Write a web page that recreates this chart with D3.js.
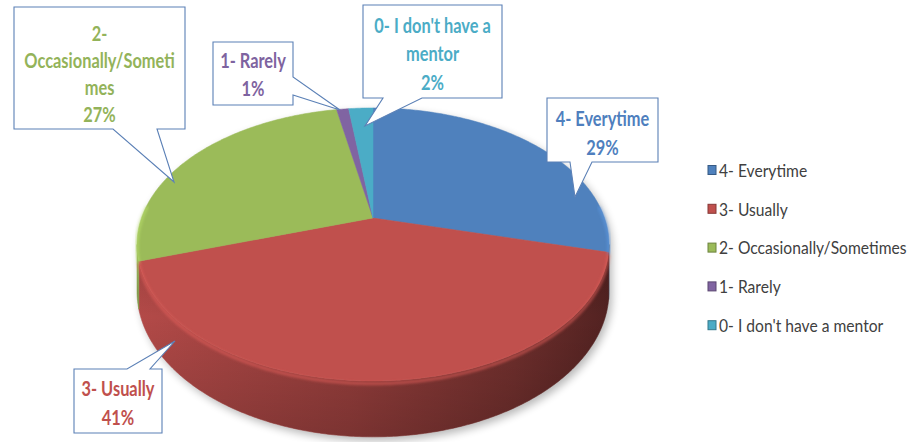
<!DOCTYPE html>
<html><head><meta charset="utf-8">
<script src="https://cdn.jsdelivr.net/npm/d3@7"></script>
<style>html,body{margin:0;padding:0;background:#fff;}svg{display:block;}</style>
</head><body>
<svg id="chart" width="918" height="442"></svg>
<script>
// ---- data ----
const categories = ["4- Everytime", "3- Usually", "2- Occasionally/Sometimes", "1- Rarely", "0- I don't have a mentor"];
const values = [29, 41, 27, 1, 2];
const percentLabels = ["29%", "41%", "27%", "1%", "2%"];
const calloutText = [["4- Everytime"], ["3- Usually"], ["2-", "Occasionally/Someti", "mes"], ["1- Rarely"], ["0- I don't have a", "mentor"]];
const sliceColors = ["#4f81bd", "#c0504d", "#9bbb59", "#8064a2", "#4bacc6"];
const textColors = ["#4f7fbe", "#c0504d", "#93b35a", "#7e63a0", "#4bacc6"];

// ---- layout (annotation positions) ----
const callouts = [
  {box:[547,98,658,162], edge:"bottom", base:[570,592], tip:[575,197], lines:[118,147]},
  {box:[74,369,162,433], edge:"top", base:[127,150], tip:[175,341], lines:[388,417]},
  {box:[14,7,185,129], edge:"bottom", base:[113,157], tip:[174,182], lines:[33,60,87,114]},
  {box:[213,42,293,105], edge:"right", base:[77,95], tip:[340,110], lines:[60,88]},
  {box:[363,5,502,98], edge:"bottom", base:[383,422], tip:[365,126], lines:[25,53,82]}
];

const svg = d3.select("#chart");
const defs = svg.append("defs");

// perspective projection of a flat disc
const cx = 373, cy = 218, A = 231.5, B = 131.4, k = 0.194, H = 45;
function proj(theta, r, depth) {
  const u = r * Math.sin(theta), v = -r * Math.cos(theta);
  const w = 1 - k * v;
  return [cx + A * u / w, cy + B * v / w + depth / w];
}
function arcPts(a0, a1, depth) {
  const n = Math.max(2, Math.ceil(Math.abs(a1 - a0) / 0.01));
  return d3.range(n + 1).map(i => proj(a0 + (a1 - a0) * i / n, 1, depth));
}
const line = d3.line().curve(d3.curveLinear);

const pie = d3.pie().sort(null).value(d => d).startAngle(0).endAngle(2 * Math.PI);
const arcs = pie(values);

const color = d3.scaleOrdinal().domain(categories).range(sliceColors);

// filters
const blur = defs.append("filter").attr("id", "shadow").attr("x", "-20%").attr("y", "-20%").attr("width", "140%").attr("height", "140%");
blur.append("feGaussianBlur").attr("stdDeviation", 4);
const soft = defs.append("filter").attr("id", "soft");
soft.append("feGaussianBlur").attr("stdDeviation", 1.6);

// shadow under pie
const thR = Math.acos(-k), thL = 2 * Math.PI - Math.acos(-k);
const outline = arcPts(thR, thL, H).concat(arcPts(thL, thR + 2 * Math.PI, 0));
svg.append("path").attr("d", line(outline) + "Z")
  .attr("transform", "translate(3,4)")
  .attr("fill", "#000").attr("opacity", 0.28).attr("filter", "url(#shadow)");

// wall gradients
categories.forEach((c, i) => {
  const base = d3.color(color(c));
  const g = defs.append("linearGradient").attr("id", "wall" + i)
    .attr("gradientUnits", "userSpaceOnUse").attr("x1", cx - 236).attr("x2", cx + 236).attr("y1", 0).attr("y2", 0);
  g.append("stop").attr("offset", 0).attr("stop-color", base.darker(0.2));
  g.append("stop").attr("offset", 0.45).attr("stop-color", base.darker(0.7));
  g.append("stop").attr("offset", 0.8).attr("stop-color", base.darker(1.5));
  g.append("stop").attr("offset", 1).attr("stop-color", base.darker(2.4));
});
const vshade = defs.append("linearGradient").attr("id", "vshade").attr("x1", 0).attr("x2", 0).attr("y1", 0).attr("y2", 1);
vshade.append("stop").attr("offset", 0).attr("stop-color", "#000").attr("stop-opacity", 0.12);
vshade.append("stop").attr("offset", 0.35).attr("stop-color", "#000").attr("stop-opacity", 0);
vshade.append("stop").attr("offset", 1).attr("stop-color", "#000").attr("stop-opacity", 0.18);

// walls (front half only)
const walls = svg.append("g");
arcs.forEach((a, i) => {
  const a0 = Math.max(a.startAngle, thR), a1 = Math.min(a.endAngle, thL);
  if (a1 <= a0) return;
  const pts = arcPts(a0, a1, 0).concat(arcPts(a1, a0, H));
  walls.append("path").attr("d", line(pts) + "Z").attr("fill", `url(#wall${i})`)
    .attr("stroke", `url(#wall${i})`).attr("stroke-width", 0.6);
  walls.append("path").attr("d", line(pts) + "Z").attr("fill", "url(#vshade)");
});

// top faces
const tops = svg.append("g");
arcs.forEach((a, i) => {
  const pts = [proj(0, 0, 0)].concat(arcPts(a.startAngle, a.endAngle, 0));
  tops.append("path").attr("d", line(pts) + "Z").attr("fill", color(categories[i]))
    .attr("stroke", color(categories[i])).attr("stroke-width", 0.5).attr("stroke-linejoin", "round");
});

// rim highlight along front edge
arcs.forEach((a, i) => {
  const a0 = Math.max(a.startAngle, thR - 0.3), a1 = Math.min(a.endAngle, thL + 0.3);
  if (a1 <= a0) return;
  const base = d3.color(color(categories[i]));
  svg.append("path").attr("d", line(arcPts(a0, a1, 2)))
    .attr("fill", "none").attr("stroke", base.brighter(0.5)).attr("stroke-width", 2.5)
    .attr("opacity", 0.75).attr("filter", "url(#soft)");
});

// callouts
function calloutPath(c) {
  const [x0, y0, x1, y1] = c.box, [b1, b2] = c.base, [tx, ty] = c.tip;
  const p = d3.path();
  if (c.edge === "bottom") {
    p.moveTo(x0, y0); p.lineTo(x1, y0); p.lineTo(x1, y1); p.lineTo(b2, y1);
    p.lineTo(tx, ty); p.lineTo(b1, y1); p.lineTo(x0, y1);
  } else if (c.edge === "top") {
    p.moveTo(x0, y0); p.lineTo(b1, y0); p.lineTo(tx, ty); p.lineTo(b2, y0);
    p.lineTo(x1, y0); p.lineTo(x1, y1); p.lineTo(x0, y1);
  } else {
    p.moveTo(x0, y0); p.lineTo(x1, y0); p.lineTo(x1, b1); p.lineTo(tx, ty);
    p.lineTo(x1, b2); p.lineTo(x1, y1); p.lineTo(x0, y1);
  }
  p.closePath();
  return p.toString();
}
const cg = svg.append("g");
callouts.forEach((c, i) => {
  cg.append("path").attr("d", calloutPath(c)).attr("fill", "#fff")
    .attr("stroke", "#5b80b6").attr("stroke-width", 1.1).attr("stroke-linejoin", "miter");
  const texts = calloutText[i].concat([percentLabels[i]]);
  const mx = (c.box[0] + c.box[2]) / 2;
  texts.forEach((t, j) => {
    cg.append("text").attr("transform", `translate(${mx},${c.lines[j]}) scale(0.78,1)`)
      .attr("text-anchor", "middle").attr("dominant-baseline", "central")
      .attr("font-family", "Lato, 'Open Sans', sans-serif").attr("font-weight", "bold")
      .attr("font-size", 21).attr("fill", textColors[i]).text(t);
  });
});

// legend
const legend = svg.append("g");
categories.forEach((c, i) => {
  const y = 170 + i * 38.8;
  const base = d3.color(color(c));
  legend.append("rect").attr("x", 708).attr("y", y - 4.5).attr("width", 8).attr("height", 9)
    .attr("fill", color(c)).attr("stroke", base.darker(1)).attr("stroke-width", 1);
  legend.append("text").attr("transform", `translate(719,${y}) scale(0.92,1)`)
    .attr("dominant-baseline", "central")
    .attr("font-family", "Lato, 'Open Sans', sans-serif").attr("font-size", 17)
    .attr("fill", "#404040").text(c);
});
</script>
</body></html>
